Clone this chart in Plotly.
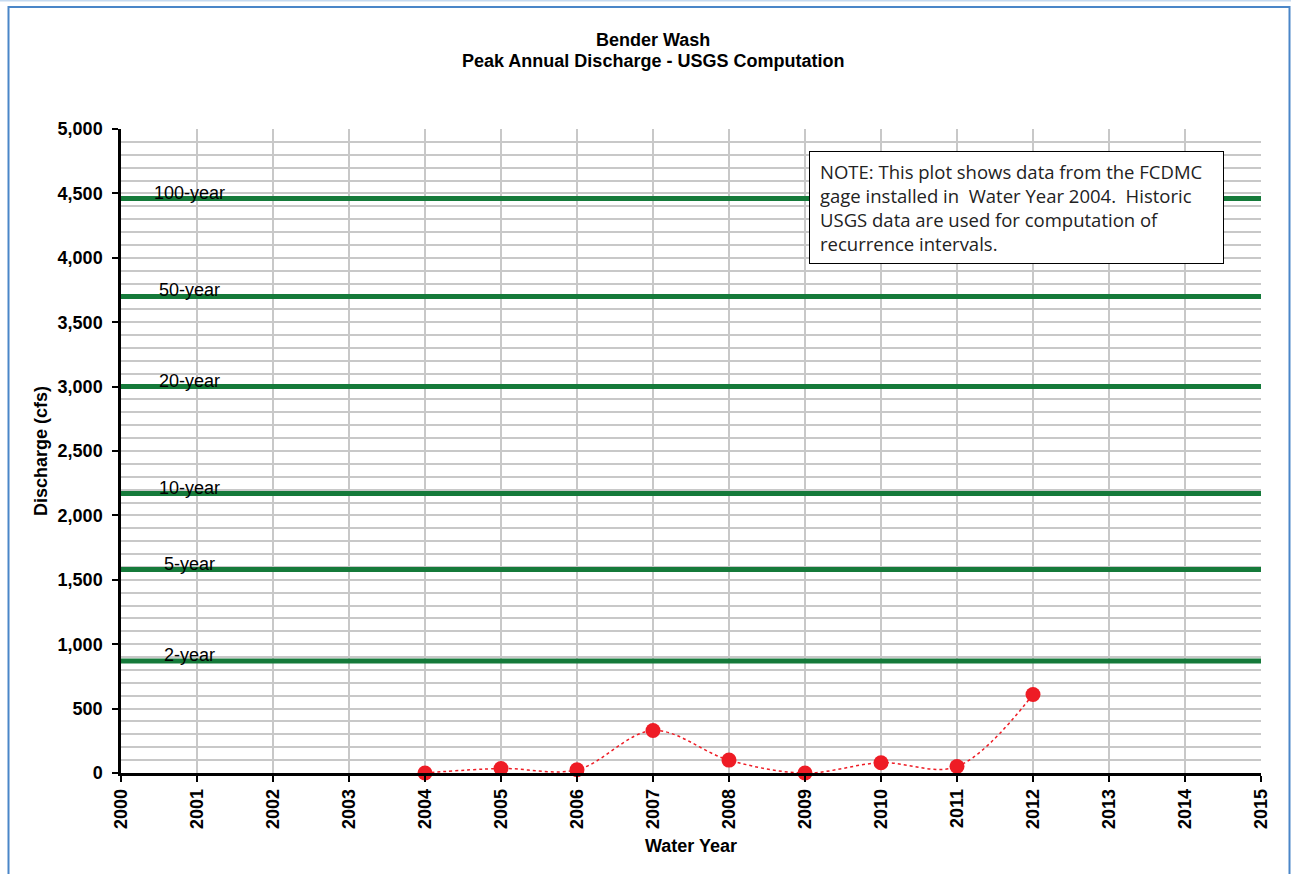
import plotly.graph_objects as go

years = [2004, 2005, 2006, 2007, 2008, 2009, 2010, 2011, 2012]
peaks = [0, 35, 25, 330, 100, 0, 80, 50, 610]

ri_labels = ["100-year", "50-year", "20-year", "10-year", "5-year", "2-year"]
ri_values = [4460, 3700, 3000, 2170, 1580, 870]

x_ticks = list(range(2000, 2016))
y_ticks = list(range(0, 5001, 500))

W, H = 1291, 874
L, R, T, B = 121, 30, 129, 101
PW, PH = W - L - R, H - T - B

def px(x):
    return (x - L) / PW

def py(y):
    return (H - B - y) / PH

FONT = "Liberation Sans, Arial"

fig = go.Figure()

for lab, v in zip(ri_labels, ri_values):
    fig.add_trace(go.Scatter(x=[2000, 2015], y=[v, v], mode="lines",
                             line=dict(color="#157a3a", width=5),
                             hoverinfo="skip", showlegend=False))
    fig.add_annotation(x=2000.9, y=v, text=lab, showarrow=False,
                       yshift=6, font=dict(family=FONT, size=18, color="black"))

fig.add_trace(go.Scatter(x=years, y=peaks, mode="lines+markers",
                         line=dict(color="#ee1c25", width=1.5, dash="dot", shape="spline"),
                         marker=dict(color="#ee1c25", size=15),
                         cliponaxis=False, showlegend=False))

fig.add_annotation(xref="paper", yref="paper", x=px(809), y=py(151),
                   xanchor="left", yanchor="top", align="left", valign="middle",
                   text="NOTE: This plot shows data from the FCDMC<br>gage installed in  Water Year 2004.  Historic<br>USGS data are used for computation of<br>recurrence intervals.",
                   showarrow=False, bordercolor="black", borderwidth=1, borderpad=10,
                   bgcolor="white", width=393, height=91,
                   font=dict(family="Open Sans, Liberation Sans", size=18.5, color="#222"))

fig.add_annotation(xref="paper", yref="paper", x=px(653), y=py(40),
                   text="Bender Wash", showarrow=False, yanchor="middle",
                   font=dict(family=FONT, size=18, color="black", weight="bold"))
fig.add_annotation(xref="paper", yref="paper", x=px(653), y=py(61),
                   text="Peak Annual Discharge - USGS Computation", showarrow=False, yanchor="middle",
                   font=dict(family=FONT, size=18, color="black", weight="bold"))

fig.add_shape(type="rect", xref="paper", yref="paper",
              x0=px(8.5), x1=px(1289.5), y0=py(7), y1=py(900),
              line=dict(color="#4a86c8", width=2), layer="below")
fig.add_shape(type="line", xref="paper", yref="paper",
              x0=px(0), x1=px(1291), y0=py(0.5), y1=py(0.5),
              line=dict(color="#c5daf0", width=2), layer="below")

fig.update_layout(
    width=W, height=H,
    margin=dict(l=L, r=R, t=T, b=B),
    paper_bgcolor="white", plot_bgcolor="white",
    font=dict(family=FONT, color="black"),
    xaxis=dict(range=[2000, 2015], tickvals=x_ticks, ticktext=[str(t) for t in x_ticks],
               tickangle=-90, tickfont=dict(size=18, family=FONT, weight="bold"),
               showgrid=True, gridcolor="#c8c8c8", gridwidth=1.5,
               showline=True, linecolor="black", linewidth=2.5,
               ticks="outside", ticklen=6, tickcolor="black", tickwidth=2,
               title=dict(text="Water Year", font=dict(size=18, weight="bold"), standoff=12),
               zeroline=False, fixedrange=True),
    yaxis=dict(range=[0, 5000], tickvals=y_ticks, ticktext=[f"{v:,}" for v in y_ticks],
               tickfont=dict(size=18, family=FONT, weight="bold"),
               ticklabelstandoff=6,
               showgrid=True, gridcolor="#c8c8c8", gridwidth=1.5,
               minor=dict(dtick=100, showgrid=True, gridcolor="#c8c8c8", gridwidth=1.5),
               showline=True, linecolor="black", linewidth=2.5,
               ticks="outside", ticklen=6, tickcolor="black", tickwidth=2,
               title=dict(text="Discharge (cfs)", font=dict(size=18, weight="bold"), standoff=6),
               zeroline=False, fixedrange=True),
)

fig.write_html("out.html", config={"displayModeBar": False},
               post_script="document.body.style.margin='0';document.body.style.overflow='hidden';")
